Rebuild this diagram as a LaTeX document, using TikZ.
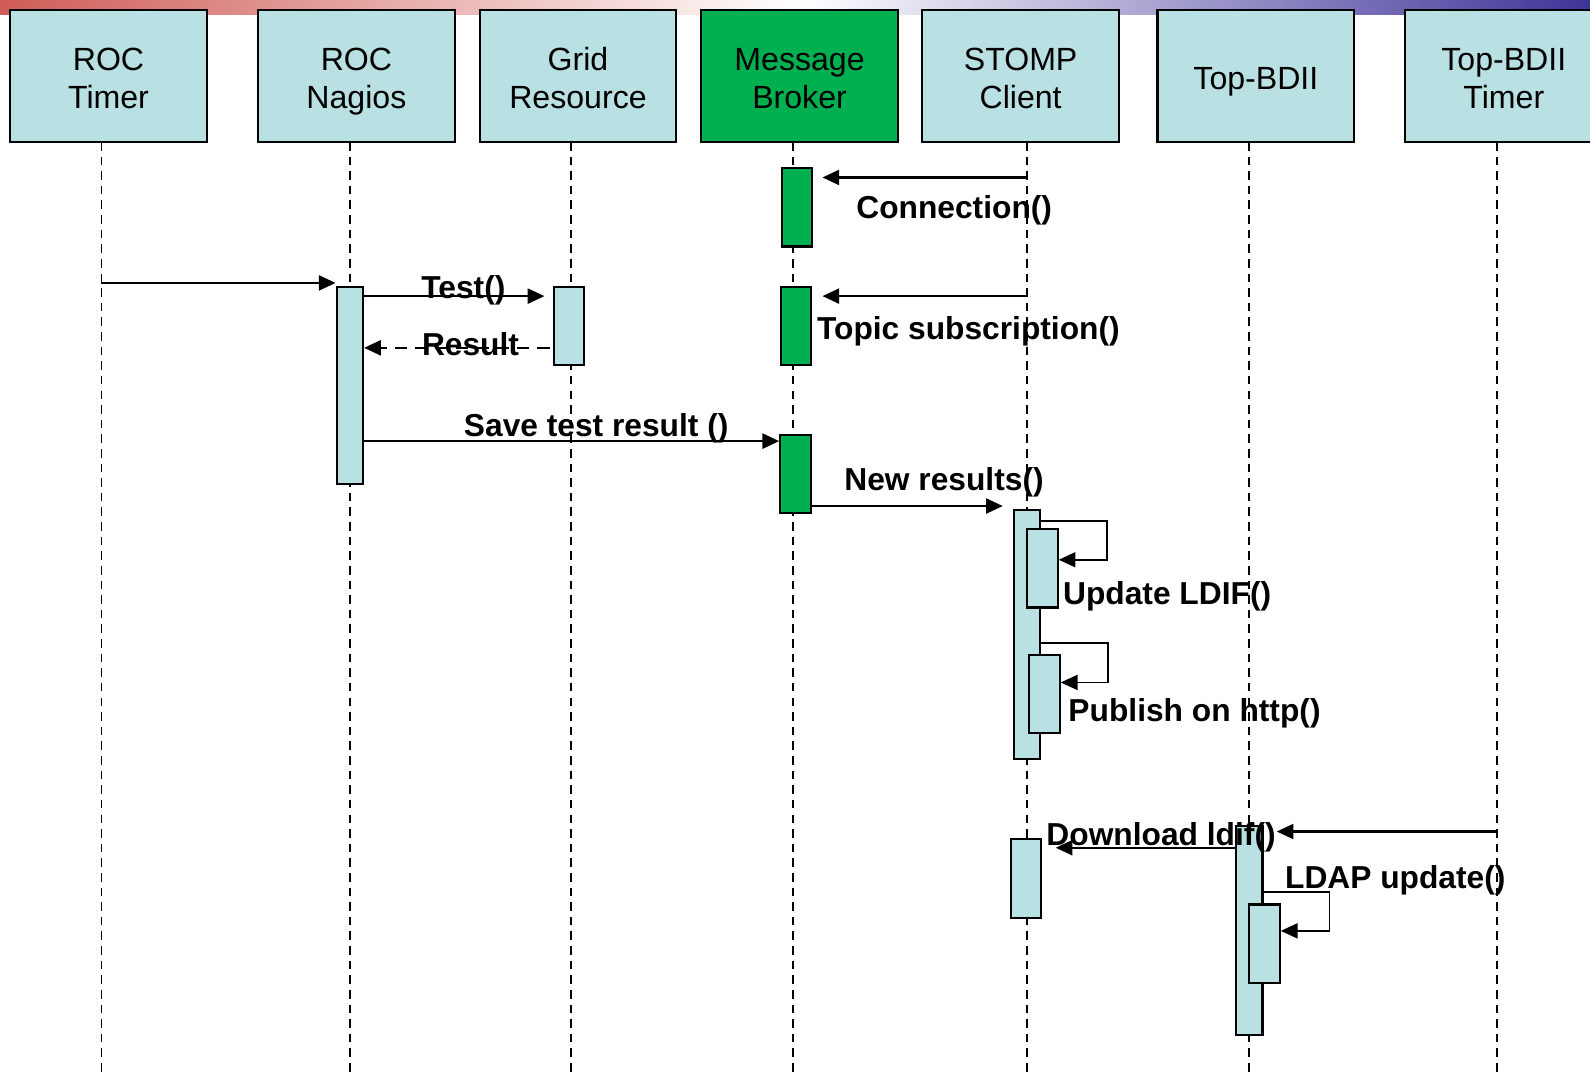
\documentclass[tikz,border=0pt]{standalone}
\usepackage{fontspec}
\setmainfont{Liberation Sans}
\usetikzlibrary{arrows.meta,positioning,calc}
\definecolor{lifebox}{RGB}{185,224,226}
\definecolor{brokergreen}{RGB}{0,176,80}
\definecolor{bandred}{RGB}{207,92,86}
\definecolor{bandblue}{RGB}{62,52,152}
\newcommand\hdstrut{\rule{0pt}{10.4pt}}
\newcommand\ftstrut{\rule[-3pt]{0pt}{3pt}}

\begin{document}
\begin{tikzpicture}[x=0.01cm,y=-0.01cm,
  head/.style={draw=black,line width=0.6pt,fill=lifebox,minimum width=1.94cm,minimum height=1.3cm,align=center,inner sep=0pt,font=\fontsize{9}{10.6}\selectfont},
  life/.style={line width=0.5pt,dash pattern=on 2.4pt off 1.7pt},
  act/.style={draw=black,line width=0.6pt,fill=lifebox,minimum width=0.3cm,minimum height=0.77cm,inner sep=0pt},
  msg/.style={-{Triangle[length=4.7pt,width=4.2pt]},line width=0.7pt},
  reply/.style={msg,dash pattern=on 3.4pt off 2.3pt},
  selfmsg/.style={-{Triangle[length=4.7pt,width=4.2pt]},line width=0.5pt},
  lbl/.style={font=\bfseries\fontsize{8.9}{10}\selectfont,inner sep=0pt}]
\useasboundingbox (0,0) rectangle (1568,1059);
% top band
\shade[left color=bandred,right color=white] (0,0) rectangle (790,14);
\shade[left color=white,right color=bandblue] (790,0) rectangle (1568,14);
% participants
\node[head] (rocT)   at (107,75)    {\hdstrut ROC\\Timer\ftstrut};
\node[head] (nagios) at (351.5,75)  {\hdstrut ROC\\Nagios\ftstrut};
\node[head] (grid)   at (570,75)    {\hdstrut Grid\\Resource\ftstrut};
\node[head,fill=brokergreen] (broker) at (788.5,75) {\hdstrut Message\\Broker\ftstrut};
\node[head] (stomp)  at (1006.5,75) {\hdstrut STOMP\\Client\ftstrut};
\node[head] (bdii)   at (1238.5,75) {\hdstrut Top-BDII\ftstrut};
\node[head] (bdiiT)  at (1483,75)   {\hdstrut Top-BDII\\Timer\ftstrut};
% lifelines
\foreach \x in {100,345,563,782,1013,1232,1476}
  \draw[life] (\x,140) -- (\x,1059);
% activations
\node[act,fill=brokergreen] (brkA) at (786,204.5) {};
\node[act,fill=brokergreen] (brkB) at (785,321.5) {};
\node[act,fill=brokergreen] (brkC) at (784.5,467.5) {};
\node[act,minimum width=0.26cm,minimum height=1.94cm] (nagB) at (345,380) {};
\node[act] (gridB) at (561,321.5) {};
\node[act,minimum width=0.26cm,minimum height=2.45cm] (stompB) at (1013,625.5) {};
\node[act] (updB) at (1028,560.5) {};
\node[act] (pubB) at (1030,684.5) {};
\node[act,minimum height=0.78cm] (dlB) at (1012,866) {};
\node[act,minimum width=0.26cm,minimum height=2.06cm] (bdiiB) at (1232,918) {};
\node[act] (ldapB) at (1247,930.5) {};
% messages
\coordinate (cConn) at (1013,175);
\draw[msg,shorten >=0.09cm] (cConn) -- (cConn -| brkA.east);
\coordinate (cTick) at (100,279);
\draw[msg] (cTick) -- (cTick -| nagB.west);
\coordinate (cTest) at (0,292);
\draw[msg,shorten >=0.08cm] (nagB.east |- cTest) -- (gridB.west |- cTest);
\coordinate (cRes) at (0,343);
\draw[reply,shorten <=0.03cm] (gridB.west |- cRes) -- (nagB.east |- cRes);
\coordinate (cTopic) at (1013,292);
\draw[msg,shorten >=0.1cm] (cTopic) -- (cTopic -| brkB.east);
\coordinate (cSave) at (0,435);
\draw[msg] (nagB.east |- cSave) -- (brkC.west |- cSave);
\coordinate (cNew) at (0,499);
\draw[msg,shorten >=0.1cm] (brkC.east |- cNew) -- (stompB.west |- cNew);
% self calls on the client
\draw[selfmsg] (stompB.east |- 0,514) -- (1092,514) -- (1092,552) -- (updB.east |- 0,552);
\draw[selfmsg] (stompB.east |- 0,634) -- (1093,634) -- (1093,673) -- (pubB.east |- 0,673);
% top-bdii part
\coordinate (cTimer) at (1476,820);
\draw[msg,shorten >=0.13cm] (cTimer) -- (cTimer -| bdiiB.east);
\coordinate (cDl) at (0,836);
\draw[msg,shorten >=0.13cm] (bdiiB.west |- cDl) -- (dlB.east |- cDl);
\draw[selfmsg] (bdiiB.east |- 0,880) -- (1311,880) -- (1311,918) -- (ldapB.east |- 0,918);
% labels
\node[lbl] (lConn)  at (941,207)  {Connection()};
\node[lbl] (lTest)  at (457,286)  {Test()};
\node[lbl] (lRes)   at (464,339)  {Result};
\node[lbl] (lTopic) at (955,327)  {Topic subscription()};
\node[lbl] (lSave)  at (588,422)  {Save test result ()};
\node[lbl] (lNew)   at (931,476)  {New results()};
\node[lbl] (lUpd)   at (1151,588) {Update LDIF()};
\node[lbl] (lPub)   at (1178,703) {Publish on http()};
\node[lbl] (lDl)    at (1145,826) {Download ldif()};
\node[lbl] (lLdap)  at (1376,868) {LDAP update()};
\end{tikzpicture}
\end{document}
